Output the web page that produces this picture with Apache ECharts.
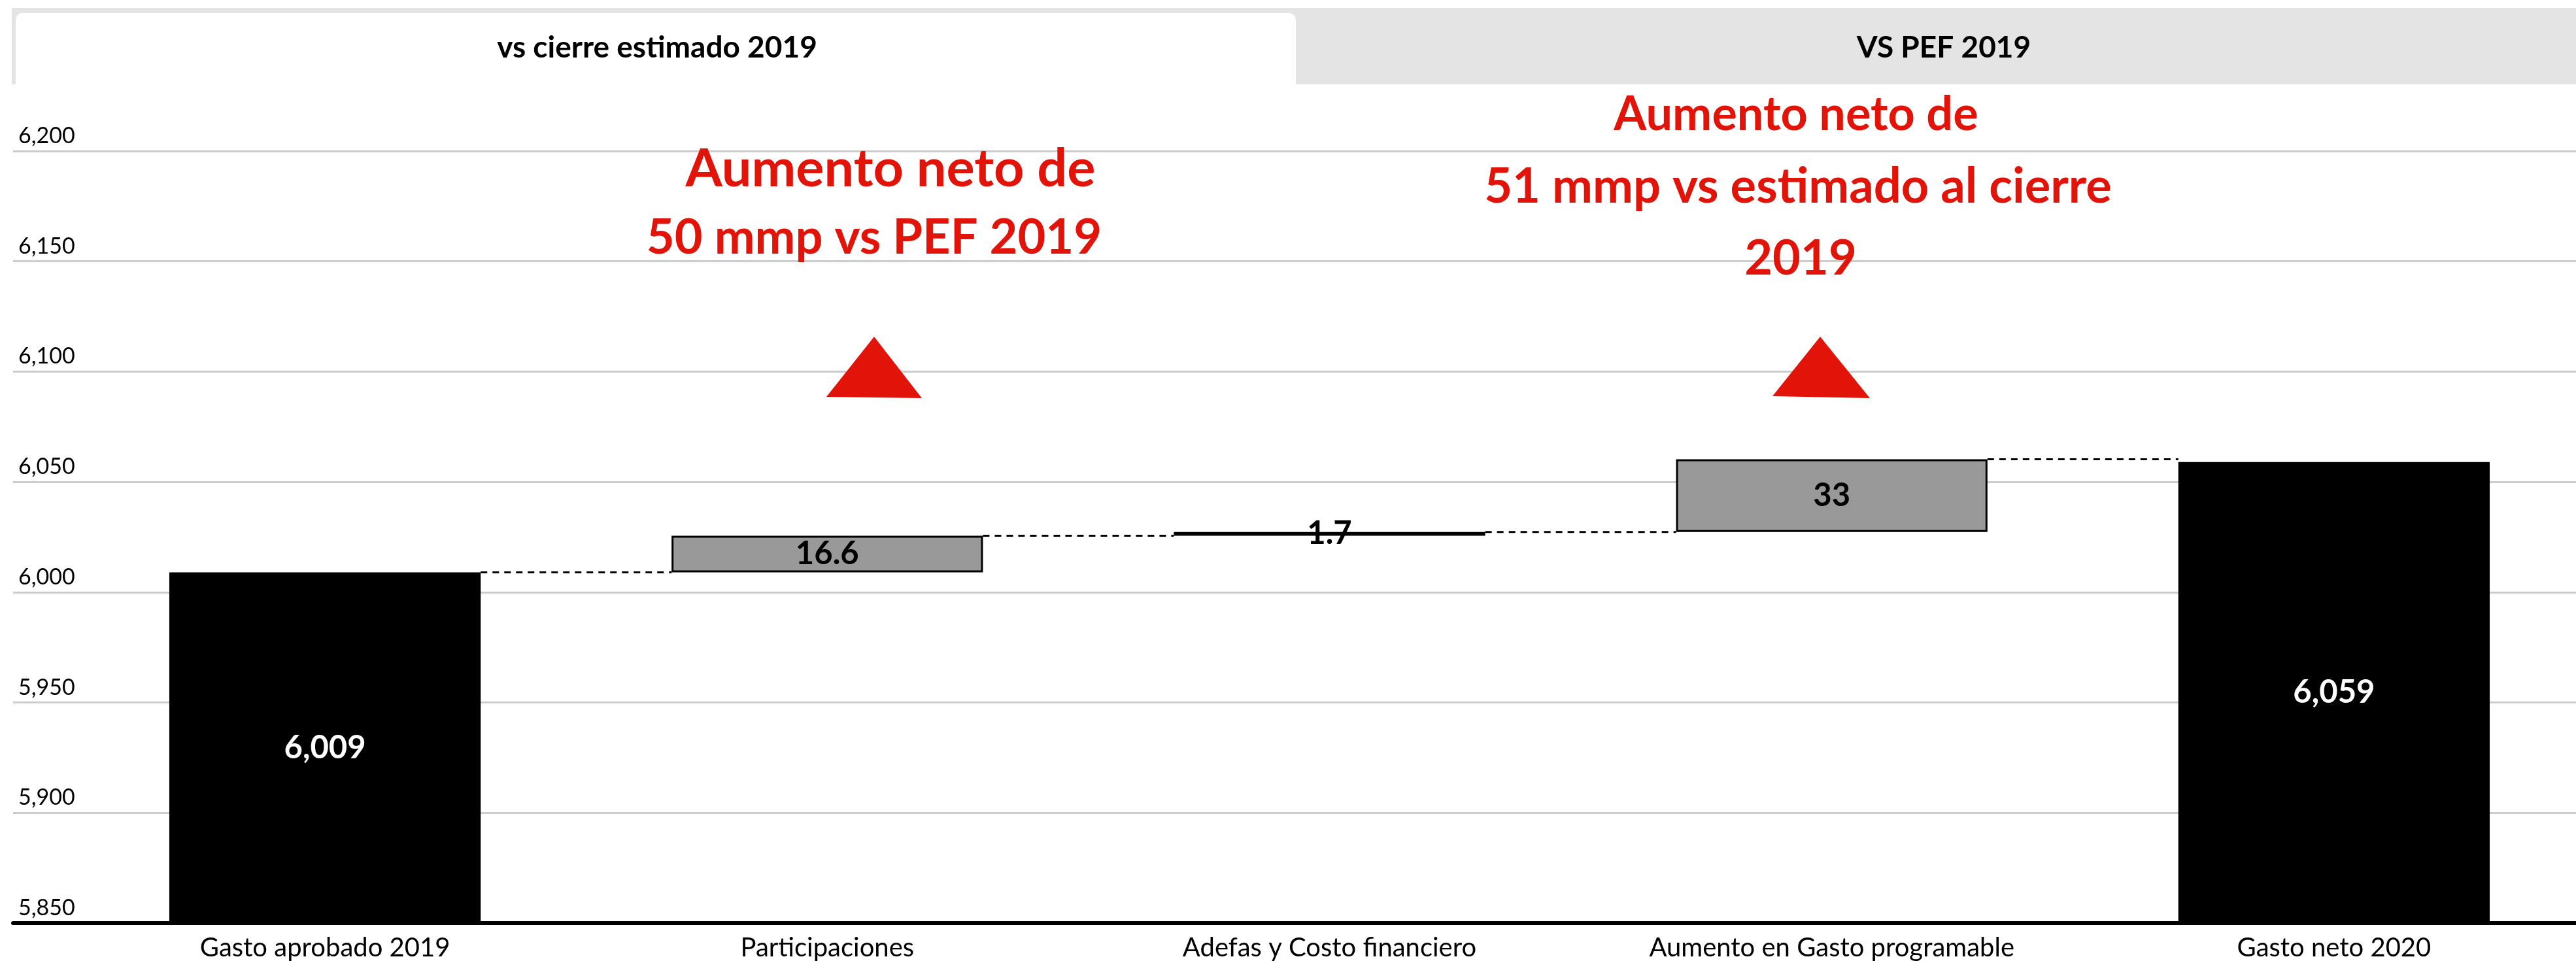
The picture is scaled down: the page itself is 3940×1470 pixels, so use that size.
<!DOCTYPE html>
<html>
<head>
<meta charset="utf-8">
<script src="https://cdn.jsdelivr.net/npm/echarts@6/dist/echarts.min.js"></script>
<style>
  html, body { margin: 0; padding: 0; background: #fff; overflow: hidden; }
  #chart { width: 3954px; height: 1470px; }
</style>
</head>
<body>
<div id="chart"></div>
<script>
// datos del puente de gasto (mmp)
var categories = ['Gasto aprobado 2019', 'Participaciones', 'Adefas y Costo financiero', 'Aumento en Gasto programable', 'Gasto neto 2020'];
var startValue = 6009;
var deltas = [16.6, 1.7, 33];
var endValue = 6059;
var yMin = 5850, yMax = 6200, yStep = 50;
var tabs = ['vs cierre estimado 2019', 'VS PEF 2019'];
var notes = [
    ['Aumento neto de', '50 mmp vs PEF 2019'],
    ['Aumento neto de', '51 mmp vs estimado al cierre', '2019']
];

var RED = '#e2140a';
var FONT = 'Lato';

// base invisible + barra visible
var base = [0], shown = [startValue], levels = [startValue];
var acc = startValue;
deltas.forEach(function (d) {
    base.push(acc);
    shown.push(d);
    acc = +(acc + d).toFixed(1);
    levels.push(acc);
});
base.push(0);
shown.push(endValue);

function fmt(v) {
    return echarts.format.addCommas(v);
}

var barData = shown.map(function (v, i) {
    var total = (i === 0 || i === shown.length - 1);
    return {
        value: v,
        itemStyle: total ? { color: '#000' } : { color: '#999999', borderColor: '#000', borderWidth: 3 },
        label: {
            show: true,
            position: 'inside',
            color: total ? '#fff' : '#000',
            fontFamily: FONT,
            fontWeight: 'bold',
            fontSize: 49,
            formatter: total ? fmt(v) : String(v)
        }
    };
});

var connData = levels.map(function (y, i) { return [i, y]; });

var graphics = [
    { type: 'rect', shape: { x: 18, y: 12, width: 3936, height: 117 }, style: { fill: '#e4e4e4' }, z: 0 },
    { type: 'rect', shape: { x: 24, y: 20, width: 1958, height: 114, r: [10, 10, 0, 0] }, style: { fill: '#fff' }, z: 1 },
    { type: 'text', x: 1005, y: 73, style: { text: tabs[0], font: 'bold 46px ' + FONT, fill: '#000', textAlign: 'center', textVerticalAlign: 'middle' }, z: 2 },
    { type: 'text', x: 2973, y: 73, style: { text: tabs[1], font: 'bold 46px ' + FONT, fill: '#000', textAlign: 'center', textVerticalAlign: 'middle' }, z: 2 },
    { type: 'polygon', shape: { points: [[1337, 515], [1264, 607], [1410, 609]] }, style: { fill: RED }, z: 5 },
    { type: 'polygon', shape: { points: [[2784, 515], [2711, 606], [2860, 609]] }, style: { fill: RED }, z: 5 }
];
var noteX = [[1362, 1337], [2747, 2750, 2754]];
var noteSize = [[81, 74], [72, 74, 74]];
var noteY = [259, 176], noteGap = [105, 110];
notes.forEach(function (lines, n) {
    lines.forEach(function (t, k) {
        graphics.push({
            type: 'text', x: noteX[n][k], y: noteY[n] + k * noteGap[n], z: 5,
            style: { text: t, font: 'bold ' + noteSize[n][k] + 'px ' + FONT, fill: RED, textAlign: 'center', textVerticalAlign: 'middle' }
        });
    });
});

var chart = echarts.init(document.getElementById('chart'));
chart.setOption({
    animation: false,
    backgroundColor: '#fff',
    grid: [
        { left: 20, right: 14, top: 231, height: 1181 },
        { left: 113, right: 0, top: 231, height: 1181 }
    ],
    xAxis: [
        {
            type: 'value', gridIndex: 0, min: 0, max: 1,
            axisLine: { show: true, lineStyle: { color: '#000', width: 6 } },
            axisTick: { show: false }, axisLabel: { show: false }, splitLine: { show: false }
        },
        {
            type: 'category', gridIndex: 1, data: categories,
            axisLine: { show: false }, axisTick: { show: false },
            axisLabel: { color: '#000', fontFamily: FONT, fontSize: 40, margin: 18 }
        }
    ],
    yAxis: [
        {
            type: 'value', gridIndex: 0, min: yMin, max: yMax, interval: yStep,
            axisLine: { show: false }, axisTick: { show: false },
            axisLabel: {
                inside: true, align: 'left', verticalAlign: 'bottom', padding: [0, 0, 6, 0],
                color: '#000', fontFamily: FONT, fontSize: 34, formatter: fmt
            },
            splitLine: { lineStyle: { color: '#cccccc', width: 3 } }
        },
        { type: 'value', gridIndex: 1, min: yMin, max: yMax, interval: yStep, show: false, splitLine: { show: false } }
    ],
    series: [
        {
            type: 'bar', xAxisIndex: 1, yAxisIndex: 1, stack: 'w', barWidth: '62%',
            itemStyle: { color: 'transparent' }, data: base, silent: true
        },
        {
            type: 'bar', xAxisIndex: 1, yAxisIndex: 1, stack: 'w', barWidth: '62%',
            data: barData
        },
        {
            type: 'custom', xAxisIndex: 1, yAxisIndex: 1, z: 3,
            renderItem: function (params, api) {
                var a = api.coord([api.value(0), api.value(1)]);
                var b = api.coord([api.value(0) + 1, api.value(1)]);
                var half = api.size([1, 0])[0] * 0.62 / 2;
                return {
                    type: 'line',
                    shape: { x1: a[0] + half, y1: a[1], x2: b[0] - half, y2: b[1] },
                    style: { stroke: '#000', lineWidth: 3, lineDash: [10, 8] }
                };
            },
            data: connData
        }
    ],
    graphic: graphics
});
</script>
</body>
</html>
